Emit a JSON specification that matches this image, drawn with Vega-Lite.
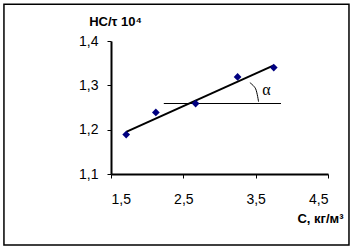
{
  "$schema": "https://vega.github.io/schema/vega-lite/v6.json",
  "autosize": "none",
  "width": 217,
  "height": 133,
  "padding": {"left": 111, "top": 41, "right": 23, "bottom": 75},
  "background": "white",
  "config": {
    "view": {"stroke": null},
    "axis": {
      "grid": false,
      "domainColor": "black",
      "domainWidth": 2,
      "tickColor": "black",
      "tickWidth": 1,
      "tickSize": 4,
      "labelFont": "Liberation Sans",
      "labelFontSize": 14,
      "labelColor": "black",
      "titleFont": "Liberation Sans",
      "titleFontSize": 13,
      "titleFontWeight": "bold",
      "titleColor": "black"
    }
  },
  "encoding": {
    "x": {
      "field": "x", "type": "quantitative",
      "scale": {"domain": [1.5, 4.5], "nice": false, "zero": false},
      "axis": {
        "values": [1.5, 2.5, 3.5, 4.5],
        "labelExpr": "replace(format(datum.value, '.1f'), '.', ',')",
        "labelPadding": 14,
        "title": "C, кг/м³",
        "titleAlign": "right",
        "titleBaseline": "alphabetic",
        "titleX": 232,
        "titleY": 48
      }
    },
    "y": {
      "field": "y", "type": "quantitative",
      "scale": {"domain": [1.1, 1.4], "nice": false, "zero": false},
      "axis": {
        "values": [1.1, 1.2, 1.3, 1.4],
        "labelExpr": "replace(format(datum.value, '.1f'), '.', ',')",
        "labelPadding": 9,
        "title": "HC/τ 10⁴",
        "titleAngle": 0,
        "titleAlign": "center",
        "titleBaseline": "alphabetic",
        "titleX": 4,
        "titleY": -16
      }
    }
  },
  "layer": [
    {
      "data": {"values": [{"x": 0.02, "y": 0.94, "x2": 4.79, "y2": 1.483}]},
      "mark": {"type": "rect", "fill": null, "stroke": "black", "strokeWidth": 1.5, "clip": false},
      "encoding": {"x2": {"field": "x2"}, "y2": {"field": "y2"}}
    },
    {
      "data": {"values": [{"x": 1.71, "y": 1.195}, {"x": 3.75, "y": 1.345}]},
      "mark": {"type": "line", "color": "black", "strokeWidth": 2}
    },
    {
      "data": {"values": [{"x": 2.23, "y": 1.259}, {"x": 3.85, "y": 1.259}]},
      "mark": {"type": "line", "color": "black", "strokeWidth": 1}
    },
    {
      "data": {"values": [{"x": 3.42, "y": 1.306}, {"x": 3.5, "y": 1.292}, {"x": 3.54, "y": 1.263}]},
      "mark": {"type": "line", "color": "black", "strokeWidth": 1, "interpolate": "cardinal"},
      "encoding": {"order": {"field": "y", "sort": "descending"}}
    },
    {
      "data": {"values": [
        {"x": 1.71, "y": 1.189},
        {"x": 2.12, "y": 1.239},
        {"x": 2.67, "y": 1.259},
        {"x": 3.25, "y": 1.319},
        {"x": 3.75, "y": 1.34}
      ]},
      "mark": {"type": "point", "shape": "diamond", "filled": true, "color": "#000080", "size": 60, "opacity": 1}
    },
    {
      "data": {"values": [{"x": 3.65, "y": 1.29, "t": "α"}]},
      "mark": {"type": "text", "font": "Liberation Serif", "fontSize": 16, "color": "black"},
      "encoding": {"text": {"field": "t"}}
    }
  ]
}
